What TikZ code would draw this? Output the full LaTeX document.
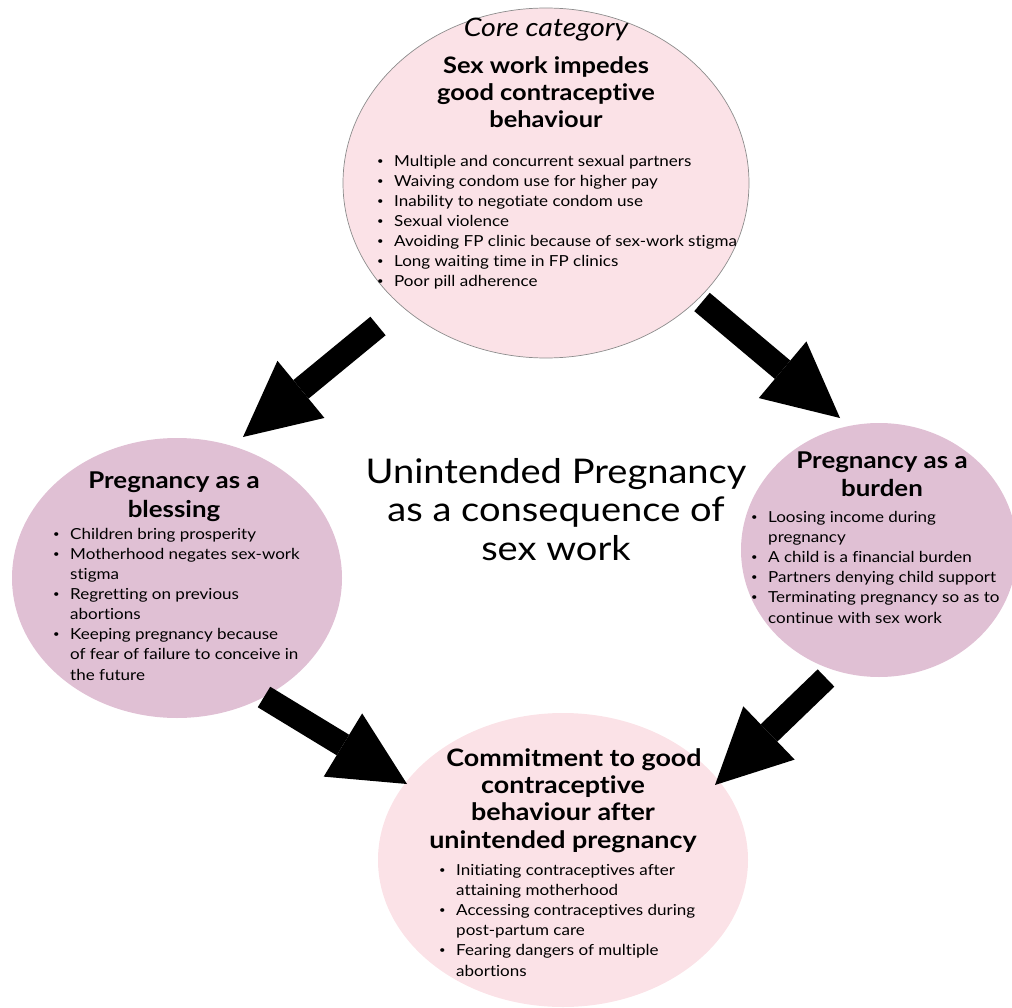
\documentclass[tikz,border=0pt]{standalone}
\usepackage{fontspec}
\setmainfont{Lato}[FakeStretch=1.12,Ligatures=NoCommon]
\usetikzlibrary{shapes.geometric,arrows.meta}
\definecolor{pinkA}{RGB}{251,226,231}
\definecolor{mauveB}{RGB}{224,192,212}
\newcommand\bul{\makebox[17pt][l]{\raisebox{2pt}{\fontsize{10}{10}\selectfont\textbullet}}}
\newcommand\cnt{\hspace*{17pt}}
\tikzset{
  lightcloud/.style={ellipse, fill=pinkA, inner sep=0pt, outer sep=0pt},
  darkcloud/.style={ellipse, fill=mauveB, inner sep=0pt, outer sep=0pt},
  bigarrow/.style={line width=24pt, -{Triangle[length=75pt,width=74pt,line width=0pt]}},
  ttl/.style={align=center, inner sep=0pt, anchor=base, font=\fontsize{22.7}{27.3}\selectfont\bfseries},
  lst/.style={align=left, inner sep=0pt, anchor=base west, font=\fontsize{15.2}{20.1}\selectfont},
}
\begin{document}
\begin{tikzpicture}[x=1pt,y=-1pt]
\useasboundingbox (0,0) rectangle (1012,1008);
\clip (0,0) rectangle (1012,1008);
% ellipses
\node[lightcloud, draw=black!45, line width=0.7pt, minimum width=406pt, minimum height=350pt] (core) at (546,183) {};
\node[darkcloud, minimum width=330pt, minimum height=280pt] (bless) at (177,578) {};
\node[darkcloud, minimum width=276pt, minimum height=254pt] (burden) at (879,550) {};
\node[lightcloud, minimum width=370pt, minimum height=294pt] (commit) at (563,860) {};
% core texts
\node[anchor=base, inner sep=0pt, font=\fontsize{25.5}{27}\selectfont\itshape] (corelbl) at (546,37) {Core category};
\node[ttl] (coret) at (546,128) {Sex work impedes\\good contraceptive\\behaviour};
\node[lst] (corel) at (377,287) {\bul Multiple and concurrent sexual partners\\
\bul Waiving condom use for higher pay\\
\bul Inability to negotiate condom use\\
\bul Sexual violence\\
\bul Avoiding FP clinic because of sex-work stigma\\
\bul Long waiting time in FP clinics\\
\bul Poor pill adherence};
% blessing
\node[ttl, font=\fontsize{23.1}{29}\selectfont\bfseries] (blesst) at (174,517) {Pregnancy as a\\blessing};
\node[lst] (blessl) at (53,680) {\bul Children bring prosperity\\
\bul Motherhood negates sex-work\\
\cnt stigma\\
\bul Regretting on previous\\
\cnt abortions\\
\bul Keeping pregnancy because\\
\cnt of fear of failure to conceive in\\
\cnt the future};
% burden
\node[ttl, font=\fontsize{23.1}{28}\selectfont\bfseries] (burdent) at (882,496) {Pregnancy as a\\burden};
\node[lst] (burdenl) at (751,623) {\bul Loosing income during\\
\cnt pregnancy\\
\bul A child is a financial burden\\
\bul Partners denying child support\\
\bul Terminating pregnancy so as to\\
\cnt continue with sex work};
% commitment
\node[ttl, font=\fontsize{24}{27.3}\selectfont\bfseries] (committ) at (563,848) {\hspace*{22pt}Commitment to good\\contraceptive\\behaviour after\\unintended pregnancy};
\node[lst] (commitl) at (439,976) {\bul Initiating contraceptives after\\
\cnt attaining motherhood\\
\bul Accessing contraceptives during\\
\cnt post-partum care\\
\bul Fearing dangers of multiple\\
\cnt abortions};
% centre
\node[align=center, inner sep=0pt, anchor=base, font=\fontsize{34}{38.5}\selectfont] (centre) at (556,560) {Unintended Pregnancy\\as a consequence of\\sex work};
% arrows
\coordinate (t1) at (378,326); \coordinate (h1) at (243,437);
\coordinate (t2) at (702,302); \coordinate (h2) at (840,418);
\coordinate (t3) at (264,697); \coordinate (h3) at (407,784);
\coordinate (t4) at (826,678); \coordinate (h4) at (715,785);
\draw[bigarrow] (t1) -- (h1);
\draw[bigarrow] (t2) -- (h2);
\draw[bigarrow] (t3) -- (h3);
\draw[bigarrow] (t4) -- (h4);
\end{tikzpicture}
\end{document}
